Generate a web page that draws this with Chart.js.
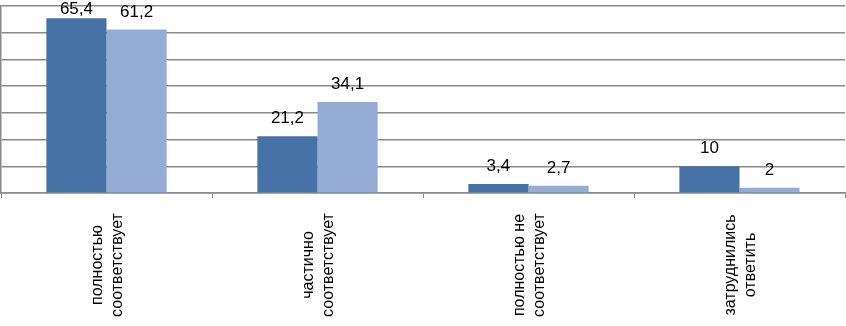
<!DOCTYPE html>
<html>
<head>
<meta charset="utf-8">
<script src="https://cdn.jsdelivr.net/npm/chart.js@4/dist/chart.umd.min.js"></script>
<style>
html, body { margin: 0; padding: 0; background: #fff; }
</style>
</head>
<body>
<canvas id="chart" width="846" height="326"></canvas>
<script>
// categories (two lines each, as in the picture)
var categories = [
  ["полностью", "соответствует"],
  ["частично", "соответствует"],
  ["полностью не", "соответствует"],
  ["затруднились", "ответить"]
];
var seriesA = [65.4, 21.2, 3.4, 10];
var seriesB = [61.2, 34.1, 2.7, 2];
var yMin = 0, yMax = 70, yStep = 10;

var gridColor = '#8a8a8a';
var valueFont = '17px "Liberation Sans", Arial, sans-serif';
var catFont = '16px "Liberation Sans", Arial, sans-serif';

// draws value labels above bars and the rotated category labels
var labelsPlugin = {
  id: 'labels',
  afterDatasetsDraw: function(chart) {
    var ctx = chart.ctx;
    ctx.save();
    ctx.font = valueFont;
    ctx.fillStyle = '#000';
    ctx.textAlign = 'center';
    ctx.textBaseline = 'alphabetic';
    chart.data.datasets.forEach(function(ds, i) {
      chart.getDatasetMeta(i).data.forEach(function(bar, j) {
        var y = Math.max(bar.y - 13, 14);
        ctx.fillText(String(ds.data[j]).replace('.', ','), bar.x, y);
      });
    });

    var xs = chart.scales.x;
    ctx.font = catFont;
    ctx.textBaseline = 'middle';
    categories.forEach(function(lines, j) {
      var x = xs.getPixelForValue(j);
      ctx.save();
      ctx.translate(x + 1, 265);
      ctx.rotate(-Math.PI / 2);
      lines.forEach(function(t, k) {
        ctx.fillText(t, 0, (k - (lines.length - 1) / 2) * 20.5);
      });
      ctx.restore();
    });
    ctx.restore();
  }
};

new Chart(document.getElementById('chart'), {
  type: 'bar',
  data: {
    labels: categories.map(function(c) { return c.join(' '); }),
    datasets: [
      { data: seriesA, backgroundColor: '#4672A8', categoryPercentage: 0.57, barPercentage: 1 },
      { data: seriesB, backgroundColor: '#95ADD5', categoryPercentage: 0.57, barPercentage: 1 }
    ]
  },
  options: {
    responsive: false,
    devicePixelRatio: 1,
    animation: false,
    layout: { padding: { top: 6, left: 1, right: 1, bottom: 128 } },
    plugins: { legend: { display: false }, tooltip: { enabled: false } },
    scales: {
      x: {
        ticks: { display: false },
        grid: { drawOnChartArea: false, drawTicks: true, tickLength: 5, color: gridColor, offset: true },
        border: { color: gridColor, width: 1.5 }
      },
      y: {
        min: yMin, max: yMax,
        ticks: { display: false, stepSize: yStep },
        grid: { color: gridColor, lineWidth: 1.5, drawTicks: false },
        border: { color: gridColor, width: 1.5 }
      }
    }
  },
  plugins: [labelsPlugin]
});
</script>
</body>
</html>
